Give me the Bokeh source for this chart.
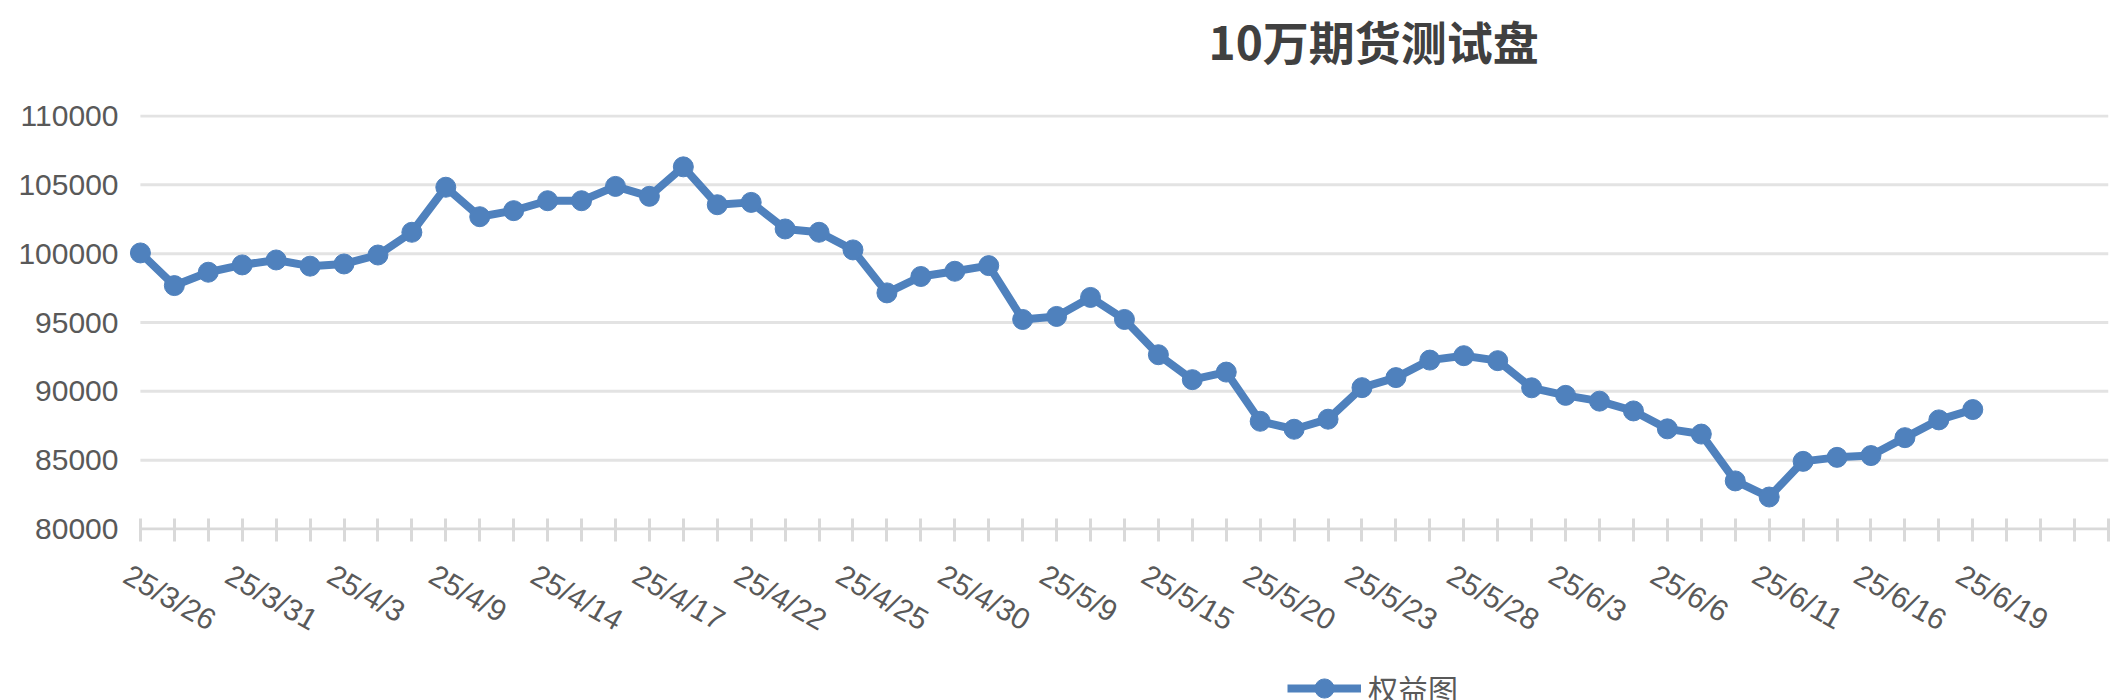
from bokeh.plotting import figure
from bokeh.layouts import column
from bokeh.models import (Range1d, FixedTicker, BasicTickFormatter, Legend, LegendItem, Title)
from bokeh.embed import file_html
from bokeh.resources import INLINE

# ---- data ----
title_text = "10万期货测试盘"
series_name = "权益图"
equity = [100050, 97680, 98650, 99180, 99540, 99090, 99250, 99900, 101550, 104820,
          102680, 103120, 103840, 103840, 104880, 104160, 106300, 103550, 103720, 101790,
          101550, 100270, 97150, 98340, 98720, 99130, 95220, 95440, 96820, 95220,
          92660, 90850, 91400, 87830, 87250, 87980, 90270, 91000, 92270, 92590,
          92230, 90260, 89710, 89290, 88580, 87280, 86900, 83500, 82330, 84920,
          85210, 85340, 86640, 87930, 88680]
date_labels = ["25/3/26", "25/3/31", "25/4/3", "25/4/9", "25/4/14", "25/4/17", "25/4/22",
               "25/4/25", "25/4/30", "25/5/9", "25/5/15", "25/5/20", "25/5/23", "25/5/28",
               "25/6/3", "25/6/6", "25/6/11", "25/6/16", "25/6/19"]
n_categories = 59          # category slots on the axis (last ones empty)
label_every = 3
y_ticks = [80000, 85000, 90000, 95000, 100000, 105000, 110000]

# ---- styling ----
BLUE = "#4F81BD"
TXT = "#595959"
GRID = "#e3e3e3"
AXIS = "#d9d9d9"
FONT = "Liberation Sans"
CJK = "Noto Sans CJK SC"
label_shift = 0.41      # rotated labels start slightly left of their tick
y_pad = 100
LINE_W = 8
DOT = 20

idx = list(range(len(equity)))
last = n_categories - 1

p = figure(width=2116, height=664, output_backend="svg", toolbar_location=None,
           x_range=Range1d(-label_shift, last),
           y_range=Range1d(y_ticks[0] - y_pad, y_ticks[-1] + y_pad),
           min_border_left=126, min_border_right=8, min_border_top=114, min_border_bottom=134)
p.outline_line_color = None
p.background_fill_color = "white"
p.border_fill_color = "white"

# title (outermost in the top panel) with a blank spacer between it and the frame
p.title.text = title_text
p.title.align = "left"
p.title.offset = 1082
p.title.vertical_align = "top"
p.title.standoff = 0
p.title.text_font = CJK
p.title.text_font_style = "bold"
p.title.text_font_size = "46px"
p.title.text_color = "#404040"
p.add_layout(Title(text=" ", text_font_size="10px", standoff=27), "above")

# y axis
ya = p.yaxis[0]
ya.ticker = FixedTicker(ticks=y_ticks)
ya.formatter = BasicTickFormatter(use_scientific=False)
ya.axis_line_color = None
ya.major_tick_line_color = None
ya.minor_tick_line_color = None
ya.major_tick_out = 0
ya.major_tick_in = 0
ya.major_label_standoff = 8
ya.major_label_text_font = FONT
ya.major_label_text_font_size = "30px"
ya.major_label_text_color = TXT

# x axis: minor ticks at each category, (hidden) major ticks carry the date labels
xa = p.xaxis[0]
label_pos = [i * label_every - label_shift for i in range(len(date_labels))]
xa.ticker = FixedTicker(ticks=label_pos, minor_ticks=list(range(n_categories)))
xa.major_label_overrides = {pos: lab for pos, lab in zip(label_pos, date_labels)}
xa.axis_line_color = None
xa.major_tick_line_color = None
xa.major_tick_in = 0
xa.major_tick_out = 0
xa.minor_tick_line_color = AXIS
xa.minor_tick_line_width = 3
xa.minor_tick_in = 12
xa.minor_tick_out = 11
xa.major_label_orientation = -0.52
xa.major_label_standoff = 31
xa.major_label_text_font = FONT
xa.major_label_text_font_size = "30px"
xa.major_label_text_color = TXT

# gridlines spanning the category axis, and the category axis line
p.xgrid.visible = False
p.ygrid.visible = False
p.segment(x0=[0] * (len(y_ticks) - 1), x1=[last] * (len(y_ticks) - 1),
          y0=y_ticks[1:], y1=y_ticks[1:], line_color=GRID, line_width=3)
p.segment(x0=[0], x1=[last], y0=[y_ticks[0]], y1=[y_ticks[0]], line_color=AXIS, line_width=3)

p.line(idx, equity, line_color=BLUE, line_width=LINE_W, line_join="round")
p.scatter(idx, equity, size=DOT, fill_color=BLUE, line_color=BLUE, marker="circle")

# legend strip below the chart (its frame is aligned with the chart's frame)
lg = figure(width=2116, height=36, output_backend="svg", toolbar_location=None,
            x_axis_type=None, y_axis_type=None, min_border=0,
            x_range=Range1d(0, 1), y_range=Range1d(0, 1))
lg.outline_line_color = None
lg.xgrid.visible = False
lg.ygrid.visible = False
# same series, outside this strip's visible range: only its legend key is seen
lg_line = lg.line(idx, equity, line_color=BLUE, line_width=LINE_W)
lg_dot = lg.scatter(idx, equity, size=DOT, fill_color=BLUE, line_color=BLUE, marker="circle")
legend = Legend(items=[LegendItem(label=series_name, renderers=[lg_line, lg_dot])],
                location=(1161, -12), orientation="horizontal", padding=0, margin=0,
                spacing=0, border_line_color=None, background_fill_alpha=0,
                glyph_width=74, glyph_height=48, label_height=48, label_standoff=7,
                label_text_font=CJK, label_text_font_size="30px", label_text_color=TXT)
lg.add_layout(legend)

open("out.html", "w").write(file_html(column(p, lg, spacing=0), INLINE))
